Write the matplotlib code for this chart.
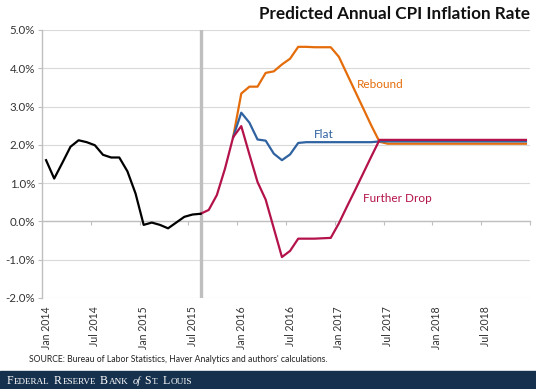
import numpy as np
import matplotlib.pyplot as plt
from matplotlib.ticker import FixedLocator, NullFormatter

plt.rcParams['font.family'] = ['Lato', 'DejaVu Sans']

# month labels (every 6 months, Jan 2014 .. Jul 2018)
tick_labels = ['Jan 2014', 'Jul 2014', 'Jan 2015', 'Jul 2015', 'Jan 2016',
               'Jul 2016', 'Jan 2017', 'Jul 2017', 'Jan 2018', 'Jul 2018']
n_months = 60  # Jan 2014 .. Dec 2018

# actual CPI inflation, Jan 2014 .. Aug 2015
history = [1.60, 1.12, 1.53, 1.95, 2.12, 2.07, 1.99, 1.74, 1.67, 1.67,
           1.31, 0.73, -0.09, -0.03, -0.09, -0.18, -0.03, 0.12, 0.18, 0.20]

# further drop scenario, Aug 2015 .. Dec 2018
further_drop = [0.20, 0.30, 0.69, 1.38, 2.20, 2.49, 1.75, 1.03, 0.57, -0.18,
                -0.93, -0.77, -0.45, -0.45, -0.45, -0.44, -0.43, -0.05, 0.39, 0.82,
                1.26, 1.70, 2.13, 2.13, 2.13, 2.13, 2.13, 2.13, 2.13, 2.13,
                2.13, 2.13, 2.13, 2.13, 2.13, 2.13, 2.13, 2.13, 2.13, 2.13, 2.13]

# flat scenario, Dec 2015 .. Dec 2018
flat = [2.20, 2.84, 2.58, 2.14, 2.11, 1.77, 1.60, 1.75, 2.05, 2.07,
        2.07, 2.07, 2.07, 2.07, 2.07, 2.07, 2.07, 2.07, 2.09, 2.09,
        2.09, 2.09, 2.09, 2.09, 2.09, 2.09, 2.09, 2.09, 2.09, 2.09,
        2.09, 2.09, 2.09, 2.09, 2.09, 2.09, 2.09]

# rebound scenario, Dec 2015 .. Dec 2018
rebound = [2.20, 3.34, 3.52, 3.52, 3.88, 3.92, 4.10, 4.25, 4.56, 4.56,
           4.55, 4.55, 4.55, 4.30, 3.85, 3.40, 2.95, 2.50, 2.08, 2.03,
           2.03, 2.03, 2.03, 2.03, 2.03, 2.03, 2.03, 2.03, 2.03, 2.03,
           2.03, 2.03, 2.03, 2.03, 2.03, 2.03, 2.03]

forecast_start = 19  # Aug 2015

c_black = '#000000'
c_orange = '#E46C0A'
c_blue = '#2F62A0'
c_red = '#B3124A'
c_grid = '#D9D9D9'
c_axis = '#BFBFBF'
c_text = '#333333'

fig = plt.figure(figsize=(5.36, 3.89), dpi=100)
ax = fig.add_axes([42/536, 1-298/389, 488/536, 268/389])

x_hist = np.arange(len(history))
x_drop = np.arange(forecast_start, forecast_start + len(further_drop))
x_flat = np.arange(n_months - len(flat), n_months)
x_reb = np.arange(n_months - len(rebound), n_months)

ax.axvline(forecast_start, color=c_axis, lw=2.4, zorder=2)
ax.plot(x_reb, rebound, color=c_orange, lw=1.6, zorder=3)
ax.plot(x_flat, flat, color=c_blue, lw=1.6, zorder=4)
ax.plot(x_drop, further_drop, color=c_red, lw=1.6, zorder=5)
ax.plot(x_hist, history, color=c_black, lw=1.6, zorder=6)

ax.set_xlim(-0.5, n_months - 0.5)
ax.set_ylim(-2, 5)
yt = np.arange(-2, 5.1, 1)
ax.set_yticks(yt)
ax.set_yticklabels(['%.1f%%' % v for v in yt], fontsize=8.3, color=c_text)
ax.grid(axis='y', color=c_grid, lw=0.8, zorder=0)
ax.set_axisbelow(True)
ax.tick_params(axis='y', length=3, color=c_axis, pad=2)

for s in ['top', 'right']:
    ax.spines[s].set_visible(False)
ax.spines['left'].set_color(c_axis)
ax.spines['left'].set_linewidth(1.0)
ax.spines['bottom'].set_position(('data', 0))
ax.spines['bottom'].set_color(c_axis)
ax.spines['bottom'].set_linewidth(1.0)

# tick marks between categories on the zero line
ax.xaxis.set_major_locator(FixedLocator(np.arange(5.5, n_months, 6)))
ax.xaxis.set_major_formatter(NullFormatter())
ax.tick_params(axis='x', length=3, color=c_axis, direction='out')

# date labels at the bottom of the plot area
sec = ax.secondary_xaxis(0)
sec.set_xticks(np.arange(0, n_months, 6))
sec.set_xticklabels(tick_labels, rotation=90, fontsize=7.6, color=c_text)
sec.tick_params(length=0, pad=6)
sec.spines['bottom'].set_visible(False)


# pixel coordinates from top-left for labels
def px(x, y):
    return x / 536, 1 - y / 389


fig.text(*px(357, 85), 'Rebound', fontsize=8.5, color=c_orange, va='center')
fig.text(*px(314, 135), 'Flat', fontsize=8.5, color=c_blue, va='center')
fig.text(*px(363, 199), 'Further Drop', fontsize=8.5, color=c_red, va='center')

fig.text(*px(530, 14), 'Predicted Annual CPI Inflation Rate', ha='right',
         va='center', fontsize=12.3, fontweight='bold', color='#111111')
fig.text(*px(29, 360), "SOURCE: Bureau of Labor Statistics, Haver Analytics and authors' calculations.",
         ha='left', va='center', fontsize=6.2, color='#222222')

# footer bar
fig.patches.append(plt.Rectangle((0, 0), 1, 18/389, transform=fig.transFigure,
                                 color='#16314E', zorder=0))

pieces = [('F', 8.5, 'normal'), ('EDERAL', 6.6, 'normal'), (' ', 0, ''),
          ('R', 8.5, 'normal'), ('ESERVE', 6.6, 'normal'), (' ', 0, ''),
          ('B', 8.5, 'normal'), ('ANK', 6.6, 'normal'), (' ', 0, ''),
          ('of', 7.5, 'italic'), (' ', 0, ''),
          ('S', 8.5, 'normal'), ('T.', 6.6, 'normal'), (' ', 0, ''),
          ('L', 8.5, 'normal'), ('OUIS', 6.6, 'normal')]
renderer = fig.canvas.get_renderer()
xpos = 7
for txt, size, style in pieces:
    if txt == ' ':
        xpos += 3.5
        continue
    t = fig.text(xpos / 536, 1 - 384 / 389, txt, fontsize=size, style=style,
                 family='Liberation Serif', color='white', ha='left',
                 va='baseline')
    xpos += t.get_window_extent(renderer).width + 0.6

fig.savefig('out.png', dpi=100)
